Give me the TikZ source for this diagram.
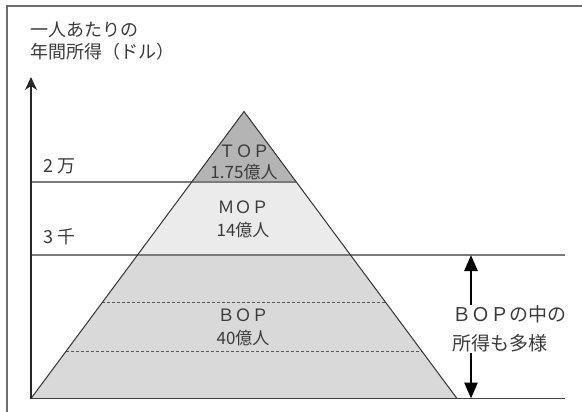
\documentclass[tikz,border=0pt]{standalone}
\usepackage{fontspec}
\setmainfont{Noto Sans CJK JP}
\usetikzlibrary{arrows.meta,calc}
\definecolor{inkc}{HTML}{3A3A3A}
\definecolor{framec}{HTML}{6E6E6E}
\definecolor{levelc}{HTML}{7A7A7A}
\definecolor{topfill}{HTML}{B4B4B4}
\definecolor{mopfill}{HTML}{EBEBEB}
\definecolor{bopfill}{HTML}{D9D9D9}
\begin{document}
\begin{tikzpicture}[x=1pt,y=-1pt,
  lbl/.style={text=inkc,inner sep=0pt,font=\fontsize{18}{22}\selectfont},
  plbl/.style={text=inkc,inner sep=0pt,font=\fontsize{17}{20}\selectfont},
  rlbl/.style={text=inkc,inner xsep=0pt,inner ysep=1pt,fill=white,align=left,
    font=\fontsize{19}{28.5}\selectfont},
  level/.style={draw=levelc,line width=1.2pt},
  dashline/.style={draw=black!65,line width=0.9pt,dash pattern=on 3pt off 2pt},
  side/.style={draw=black!80,line width=1pt},
  axisline/.style={draw=black!85,line width=1.1pt,
    -{Stealth[length=13pt,width=12pt,inset=4pt]}},
  bigarrow/.style={draw=black,line width=2.6pt,
    {Triangle[length=16pt,width=13pt]}-{Triangle[length=16pt,width=13pt]}}]
\useasboundingbox (0,0) rectangle (582,412);

% outer frame (left and top edges)
\coordinate (fb) at (7,412);
\coordinate (fc) at (7,6);
\coordinate (fr) at (582,6);
\draw[framec,line width=1.4pt] (fb) -- (fc) -- (fr);

% pyramid corners and level points along its sides
\coordinate (apex) at (244,111.5);
\coordinate (bl) at (31,398.5);
\coordinate (br) at (457,398.5);
\foreach \n/\t in {a/0.2456,b/0.5,c/0.6655,d/0.8345} {
  \coordinate (\n L) at ($(apex)!\t!(bl)$);
  \coordinate (\n R) at ($(apex)!\t!(br)$);
}

% layer fills
\fill[topfill] (apex) -- (aL) -- (aR) -- cycle;
\fill[mopfill] (aL) -- (bL) -- (bR) -- (aR) -- cycle;
\fill[bopfill] (bL) -- (bl) -- (br) -- (bR) -- cycle;

% dotted subdivisions of the bottom layer
\draw[dashline] (cL) -- (cR);
\draw[dashline] (dL) -- (dR);

% income levels
\coordinate (y2) at (bl |- aL);
\coordinate (y3) at (bl |- bL);
\coordinate (e3) at (565,255);
\coordinate (e0) at (565,398.5);
\draw[level] (y2) -- (aR);
\draw[level] (y3) -- (e3);
\draw[draw=black!75,line width=1.3pt] (bl) -- (e0);

% pyramid sides
\draw[side] (bl) -- (apex) -- (br);

% vertical axis
\coordinate (atop) at (31,77);
\draw[axisline] (bl) -- (atop);

% range arrow for the bottom layer
\coordinate (rt) at (471,255);
\coordinate (rb) at (471,398.5);
\draw[bigarrow] (rb) -- (rt);

% axis title and level labels
\node[lbl,anchor=west] (t1) at (30,29.5) {一人あたりの};
\node[lbl,anchor=west] (t2) at (30,51.5) {年間所得（ドル）};
\node[lbl,anchor=west] (l2) at (43,166) {2 万};
\node[lbl,anchor=west] (l3) at (43,237) {3 千};

% layer labels
\node[plbl] (topA) at (244,151.5) {ＴＯＰ};
\node[plbl] (topB) at (244,172.5) {1.75億人};
\node[plbl] (mopA) at (243,207.5) {ＭＯＰ};
\node[plbl] (mopB) at (243,230.5) {14億人};
\node[plbl] (bopA) at (243,315.5) {ＢＯＰ};
\node[plbl] (bopB) at (243,338) {40億人};

% note beside the range arrow
\node[rlbl,anchor=west] (note) at (452,329) {ＢＯＰの中の\\所得も多様};
\end{tikzpicture}
\end{document}
